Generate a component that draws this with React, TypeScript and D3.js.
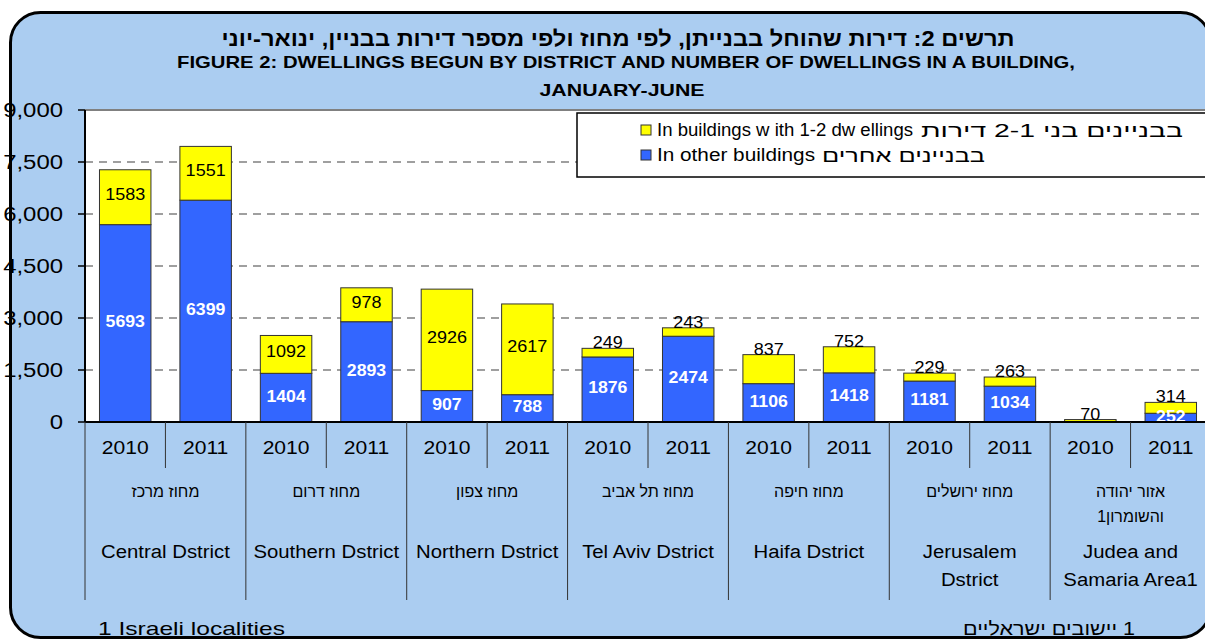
import React from "react";
import * as d3 from "d3";

const titleHe = "תרשים 2: דירות שהוחל בבנייתן, לפי מחוז ולפי מספר דירות בבניין, ינואר-יוני";
const titleEn1 = "FIGURE 2: DWELLINGS BEGUN BY DISTRICT AND NUMBER OF DWELLINGS IN A BUILDING,";
const titleEn2 = "JANUARY-JUNE";
const legendSmallEn = "In buildings w ith 1-2 dw ellings";
const legendSmallHe = "בבניינים בני 2-1 דירות";
const legendOtherEn = "In other buildings";
const legendOtherHe = "בבניינים אחרים";
const footEn = "1 Israeli localities";
const footHe = "\u200F1 יישובים ישראליים";

const districtsHe: string[][] = [
  ["מחוז מרכז"], ["מחוז דרום"], ["מחוז צפון"], ["מחוז תל אביב"],
  ["מחוז חיפה"], ["מחוז ירושלים"], ["אזור יהודה", "והשומרון1"],
];
const districtsEn: string[][] = [
  ["Central Dstrict"], ["Southern Dstrict"], ["Northern Dstrict"], ["Tel Aviv Dstrict"],
  ["Haifa Dstrict"], ["Jerusalem", "Dstrict"], ["Judea and", "Samaria Area1"],
];
const years = ["2010", "2011"];
const otherBuildings: number[][] = [
  [5693, 6399], [1404, 2893], [907, 788], [1876, 2474], [1106, 1418], [1181, 1034], [0, 252],
];
const smallBuildings: number[][] = [
  [1583, 1551], [1092, 978], [2926, 2617], [249, 243], [837, 752], [229, 263], [70, 314],
];
const yTicks = [0, 1500, 3000, 4500, 6000, 7500, 9000];

const W = 1205, H = 642;
const plot = { left: 85, right: 1211, top: 110, bottom: 422 };
const BLUE = "#3366FF", YELLOW = "#FFFF00", BG = "#ABCDF1";
const FONT = "'Liberation Sans', Arial, sans-serif";

function T(props: { x: number; y: number; sx?: number; size: number; anchor?: string; bold?: boolean; fill?: string; children: React.ReactNode }) {
  const { x, y, sx = 1, size, anchor = "middle", bold, fill = "#000", children } = props;
  return (
    <text transform={`translate(${x},${y}) scale(${sx},1)`} dy="0.35em" textAnchor={anchor} fontSize={size} fontWeight={bold ? "bold" : "normal"} fill={fill}>
      {children}
    </text>
  );
}

export default function App() {
  const groupIdx = districtsEn.map((_, i) => String(i));
  const x0 = d3.scaleBand<string>().domain(groupIdx).range([plot.left, plot.right]).padding(0);
  const x1 = d3.scaleBand<string>().domain(years).range([0, x0.bandwidth()]).padding(0);
  const y = d3.scaleLinear().domain([0, 9000]).range([plot.bottom, plot.top]);
  const barW = x1.bandwidth() * 0.64;
  const fmt = d3.format(",");

  return (
    <svg width={W} height={H} style={{ position: "absolute", left: 0, top: 0 }} fontFamily={FONT}>
      <rect x={0} y={0} width={W} height={H} fill="#ffffff" />
      <rect x={10.5} y={12.5} width={1200} height={625} rx={30} ry={30} fill={BG} stroke="#000" strokeWidth={3} />
      {/* Titles */}
      <text x={618} y={46} textAnchor="middle" fontSize={22} fontWeight="bold" fill="#000" textLength={793} lengthAdjust="spacingAndGlyphs">{titleHe}</text>
      <text x={626} y={68} textAnchor="middle" fontSize={17} fontWeight="bold" fill="#000" textLength={898} lengthAdjust="spacingAndGlyphs">{titleEn1}</text>
      <text x={622} y={96} textAnchor="middle" fontSize={17} fontWeight="bold" fill="#000" textLength={165} lengthAdjust="spacingAndGlyphs">{titleEn2}</text>
      {/* plot area */}
      <rect x={plot.left} y={plot.top} width={plot.right - plot.left} height={plot.bottom - plot.top} fill="#fff" />
      <line x1={plot.left} x2={plot.right} y1={plot.top} y2={plot.top} stroke="#808080" strokeWidth={2} />
      {yTicks.filter(t => t > 0 && t < 9000).map(t => (
        <line key={t} x1={plot.left} x2={plot.right} y1={y(t)} y2={y(t)} stroke="#808080" strokeWidth={1.5} strokeDasharray="8,6" />
      ))}
      {/* bars */}
      {groupIdx.map((g, gi) => years.map((yr, yi) => {
        const cx = (x0(g) as number) + (x1(yr) as number) + x1.bandwidth() / 2;
        const o = otherBuildings[gi][yi];
        const s = smallBuildings[gi][yi];
        const yO = y(o), yT = y(o + s);
        const smallH = yO - yT;
        const labelSmallY = smallH < 31 ? yT - 6 : (yO + yT) / 2 - 3;
        return (
          <g key={g + yr}>
            {o > 0 && <rect x={cx - barW / 2} y={yO} width={barW} height={plot.bottom - yO} fill={BLUE} stroke="#333" strokeWidth={1} />}
            <rect x={cx - barW / 2} y={yT} width={barW} height={smallH} fill={YELLOW} stroke="#333" strokeWidth={1} />
            <T x={cx} y={labelSmallY} size={17} sx={1.06}>{s}</T>
            {o > 0 && <T x={cx} y={(yO + plot.bottom) / 2 - 2} size={17} sx={1.04} bold fill="#fff">{o}</T>}
          </g>
        );
      }))}
      {/* y axis */}
      <line x1={plot.left} x2={plot.left} y1={plot.top} y2={plot.bottom} stroke="#000" strokeWidth={2} />
      {yTicks.map(t => (
        <g key={t}>
          <line x1={plot.left - 7} x2={plot.left} y1={y(t)} y2={y(t)} stroke="#000" strokeWidth={1.5} />
          <T x={63} y={y(t)} size={21} sx={1.14} anchor="end">{fmt(t)}</T>
        </g>
      ))}
      {/* x axis */}
      <line x1={plot.left} x2={plot.right} y1={plot.bottom} y2={plot.bottom} stroke="#000" strokeWidth={2} />
      {groupIdx.map((g, gi) => {
        const gx = x0(g) as number;
        const gc = gx + x0.bandwidth() / 2;
        return (
          <g key={"ax" + g}>
            <line x1={gx} x2={gx} y1={plot.bottom} y2={600} stroke="#333" strokeWidth={1} />
            <line x1={gx + x1.bandwidth()} x2={gx + x1.bandwidth()} y1={plot.bottom} y2={468} stroke="#333" strokeWidth={1} />
            {years.map(yr => (
              <T key={yr} x={gx + (x1(yr) as number) + x1.bandwidth() / 2} y={447} size={19} sx={1.11}>{yr}</T>
            ))}
            {districtsHe[gi].map((t, li) => (
              <T key={"he" + li} x={gc} y={491 + li * 25} size={16}>{t}</T>
            ))}
            {districtsEn[gi].map((t, li) => (
              <T key={"en" + li} x={gc} y={552 + li * 28} size={18} sx={1.13}>{t}</T>
            ))}
          </g>
        );
      })}
      {/* legend */}
      <rect x={577} y={113} width={640} height={64} fill="#fff" stroke="#000" strokeWidth={1.5} />
      <rect x={641} y={125} width={10} height={10} fill={YELLOW} stroke="#333" strokeWidth={1} />
      <text x={657} y={130} dy="0.35em" fontSize={18} fill="#000" textLength={256} lengthAdjust="spacingAndGlyphs">{legendSmallEn}</text>
      <text x={921} y={130} dy="0.35em" fontSize={19} fill="#000" textLength={262} lengthAdjust="spacingAndGlyphs">{legendSmallHe}</text>
      <rect x={641} y={150} width={10} height={10} fill={BLUE} stroke="#333" strokeWidth={1} />
      <text x={657} y={155} dy="0.35em" fontSize={18} fill="#000" textLength={158} lengthAdjust="spacingAndGlyphs">{legendOtherEn}</text>
      <text x={822} y={155} dy="0.35em" fontSize={19} fill="#000" textLength={163} lengthAdjust="spacingAndGlyphs">{legendOtherHe}</text>
      {/* footnotes */}
      <text x={98} y={628} dy="0.35em" fontSize={19} fill="#000" textLength={187} lengthAdjust="spacingAndGlyphs">{footEn}</text>
      <text x={963} y={628} dy="0.35em" fontSize={19} fill="#000" textLength={172} lengthAdjust="spacingAndGlyphs">{footHe}</text>
    </svg>
  );
}
